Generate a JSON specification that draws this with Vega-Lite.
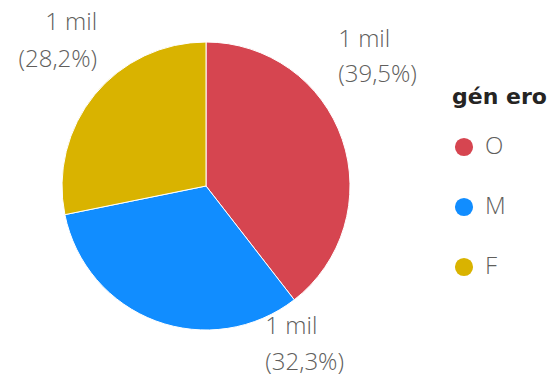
{
  "$schema": "https://vega.github.io/schema/vega-lite/v6.json",
  "width": 412,
  "height": 372,
  "autosize": {"type": "none"},
  "padding": {"left": 0, "top": 0, "right": 144, "bottom": 5},
  "background": "#ffffff",
  "config": {"view": {"stroke": null}, "font": "Open Sans"},
  "data": {
    "values": [
      {"genero": "O", "ordem": 1, "valor": 1264, "rotulo": "1 mil\n(39,5%)"},
      {"genero": "M", "ordem": 2, "valor": 1034, "rotulo": "1 mil\n(32,3%)"},
      {"genero": "F", "ordem": 3, "valor": 902, "rotulo": "1 mil\n(28,2%)"}
    ]
  },
  "encoding": {
    "theta": {"field": "valor", "type": "quantitative", "stack": true},
    "order": {"field": "ordem", "type": "quantitative"}
  },
  "layer": [
    {
      "mark": {"type": "arc", "outerRadius": 144, "stroke": "#ffffff", "strokeWidth": 1},
      "encoding": {
        "color": {
          "field": "genero",
          "type": "nominal",
          "scale": {"domain": ["O", "M", "F"], "range": ["#D64550", "#118DFF", "#D9B300"]},
          "legend": {
            "title": "gén ero",
            "orient": "none",
            "legendX": 452,
            "legendY": 87,
            "titleFont": "DejaVu Sans",
            "titleFontSize": 22,
            "titleFontWeight": "bold",
            "titleColor": "#252423",
            "titlePadding": 26,
            "labelFont": "Open Sans",
            "labelFontSize": 24,
            "labelFontWeight": 300,
            "labelColor": "#605E5C",
            "symbolType": "circle",
            "symbolSize": 330,
            "symbolStrokeWidth": 0,
            "rowPadding": 36,
            "labelOffset": 9
          }
        }
      }
    },
    {
      "mark": {"type": "text", "radius": 200, "align": "left", "baseline": "middle", "lineBreak": "\n", "lineHeight": 35, "fontSize": 24, "fontWeight": 300, "color": "#605E5C", "dx": -57, "dy": -81},
      "encoding": {"text": {"condition": {"test": "datum.genero === 'O'", "field": "rotulo"}, "value": ""}}
    },
    {
      "mark": {"type": "text", "radius": 160, "align": "left", "baseline": "middle", "lineBreak": "\n", "lineHeight": 36, "fontSize": 24, "fontWeight": 300, "color": "#605E5C", "dx": 115, "dy": -9},
      "encoding": {"text": {"condition": {"test": "datum.genero === 'M'", "field": "rotulo"}, "value": ""}}
    },
    {
      "mark": {"type": "text", "radius": 200, "align": "right", "baseline": "middle", "lineBreak": "\n", "lineHeight": 37, "fontSize": 24, "fontWeight": 300, "color": "#605E5C", "dx": 46, "dy": -36},
      "encoding": {"text": {"condition": {"test": "datum.genero === 'F'", "field": "rotulo"}, "value": ""}}
    }
  ]
}
